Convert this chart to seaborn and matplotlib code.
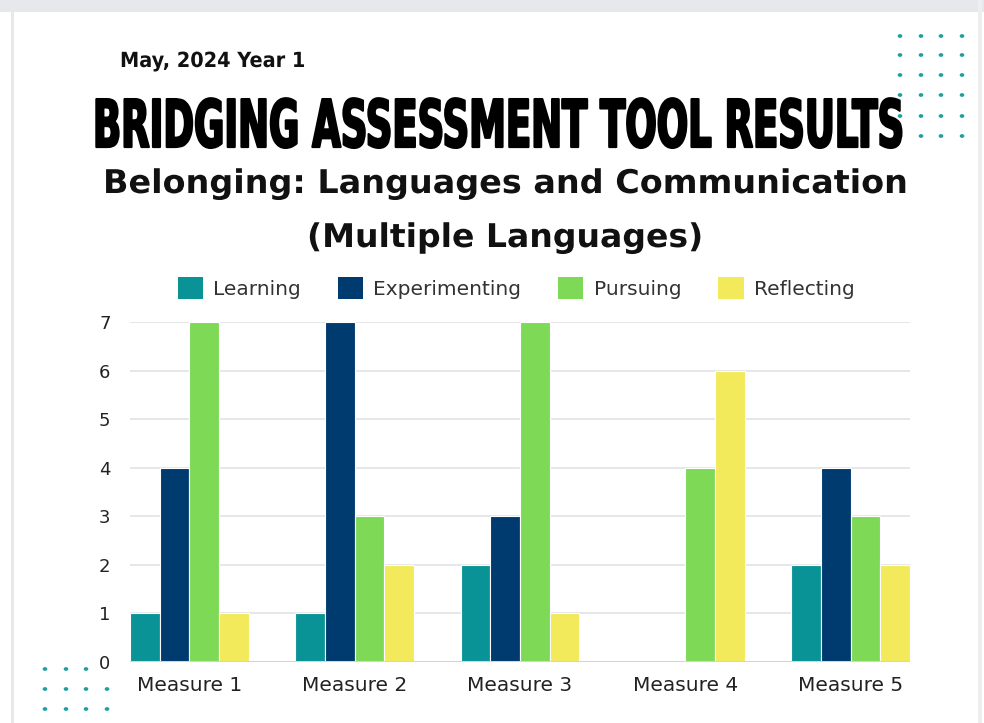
import seaborn as sns
import pandas as pd
import matplotlib.pyplot as plt
import matplotlib.patheffects as pe
from matplotlib.transforms import Affine2D
from matplotlib.patches import Rectangle

# data
measures = ['Measure 1', 'Measure 2', 'Measure 3', 'Measure 4', 'Measure 5']
stages = ['Learning', 'Experimenting', 'Pursuing', 'Reflecting']
learning = [1, 1, 2, 0, 2]
experimenting = [4, 7, 3, 0, 4]
pursuing = [7, 3, 7, 4, 3]
reflecting = [1, 2, 1, 6, 2]
colors = ['#0a9396', '#003b6f', '#7ed957', '#f2ea5a']

rows = []
for stage, vals in zip(stages, [learning, experimenting, pursuing, reflecting]):
    for m, v in zip(measures, vals):
        rows.append({'measure': m, 'stage': stage, 'count': v})
df = pd.DataFrame(rows)

sns.set_style('white')
plt.rcParams['font.family'] = ['DejaVu Sans']

W, H = 984, 723
fig = plt.figure(figsize=(W / 100, H / 100), dpi=100)
fig.patch.set_facecolor('white')


class Squeeze(pe.AbstractPathEffect):
    """scale text about its anchor (display px), optionally thicken"""
    def __init__(self, sx, sy, x0, y0, lw=0):
        super().__init__()
        self.sx, self.sy, self.x0, self.y0, self.lw = sx, sy, x0, y0, lw

    def draw_path(self, renderer, gc, tpath, affine, rgbFace=None):
        a = affine + Affine2D().translate(-self.x0, -self.y0).scale(self.sx, self.sy) \
            .translate(self.x0, self.y0)
        gc0 = renderer.new_gc()
        gc0.copy_properties(gc)
        gc0.set_linewidth(self.lw)
        if self.lw:
            gc0.set_foreground(rgbFace)
        renderer.draw_path(gc0, tpath, a, rgbFace)
        gc0.restore()


def fitted_text(x0, x1, y, s, ha='center', sy=1.0, lw=0, **kw):
    # x0, x1, y in pixels from top-left, y = baseline
    xa = (x0 + x1) / 2 if ha == 'center' else x0
    t = fig.text(xa / W, 1 - y / H, s, ha=ha, va='baseline', **kw)
    fig.canvas.draw()
    bb = t.get_window_extent()
    t.set_path_effects([Squeeze((x1 - x0) / bb.width, sy, xa, H - y, lw)])
    return t


# page frame
fig.add_artist(Rectangle((0, 1 - 12 / H), 1, 12 / H, transform=fig.transFigure,
                         color='#e7e8ec', lw=0, zorder=0))
fig.add_artist(Rectangle((11 / W, 0), 3 / W, 1, transform=fig.transFigure,
                         color='#e7e8ec', lw=0, zorder=0))
fig.add_artist(Rectangle((978 / W, 0), 4 / W, 1, transform=fig.transFigure,
                         color='#eeeef1', lw=0, zorder=0))

# decorative dots
dots = [(cx, cy) for cx in [900, 921, 941, 962] for cy in [36, 55, 75, 95, 116, 136]]
dots += [(cx, cy) for cx in [45, 66, 86, 107] for cy in [669, 689, 709]
         if (cx, cy) != (107, 669)]
for cx, cy in dots:
    fig.add_artist(plt.Circle((cx / W, 1 - cy / H), 1.6 / W, transform=fig.transFigure,
                              color='#1fa0a0', zorder=0))

# texts
fitted_text(120, 305, 67, 'May, 2024 Year 1', ha='left', sy=1.25, fontsize=12,
            fontweight='bold', color='#111111')
fitted_text(93, 906, 147, 'BRIDGING ASSESSMENT TOOL RESULTS', sy=1.82, lw=1.6,
            fontsize=26, fontweight='bold', color='black')
fitted_text(103, 908, 193, 'Belonging: Languages and Communication',
            fontsize=23.5, fontweight='bold', color='#111111')
fitted_text(307, 703, 247, '(Multiple Languages)',
            fontsize=23.5, fontweight='bold', color='#111111')

# chart
ax = fig.add_axes([130 / W, 61 / H, 780 / W, 340 / H])
sns.barplot(data=df, x='measure', y='count', hue='stage', hue_order=stages,
            palette=colors, width=0.72, saturation=1, edgecolor='white',
            linewidth=0.8, ax=ax, zorder=3)

ax.set_xlim(-0.36, 4.36)
ax.set_ylim(0, 7)
ax.set_yticks(range(0, 8))
ax.grid(axis='y', color='#e6e7ea', lw=1.4, zorder=0)
ax.axhline(0, color='#d2d4d8', lw=2.2, zorder=4)
sns.despine(ax=ax, left=True, bottom=True)
ax.tick_params(length=0)
ax.tick_params(axis='y', pad=14, labelsize=13, labelcolor='#222222')
ax.tick_params(axis='x', pad=10, labelsize=14.5, labelcolor='#222222')
ax.set_xlabel('')
ax.set_ylabel('')

sns.move_legend(ax, 'center', bbox_to_anchor=(516 / W, 1 - 288 / H),
                bbox_transform=fig.transFigure, ncol=4, frameon=False, title=None,
                fontsize=14.5, handlelength=1.25, handleheight=1.25,
                handletextpad=0.5, columnspacing=1.85, labelcolor='#333333')
for h in ax.get_legend().legend_handles:
    h.set_edgecolor('none')

fig.savefig('out.png', dpi=100)
